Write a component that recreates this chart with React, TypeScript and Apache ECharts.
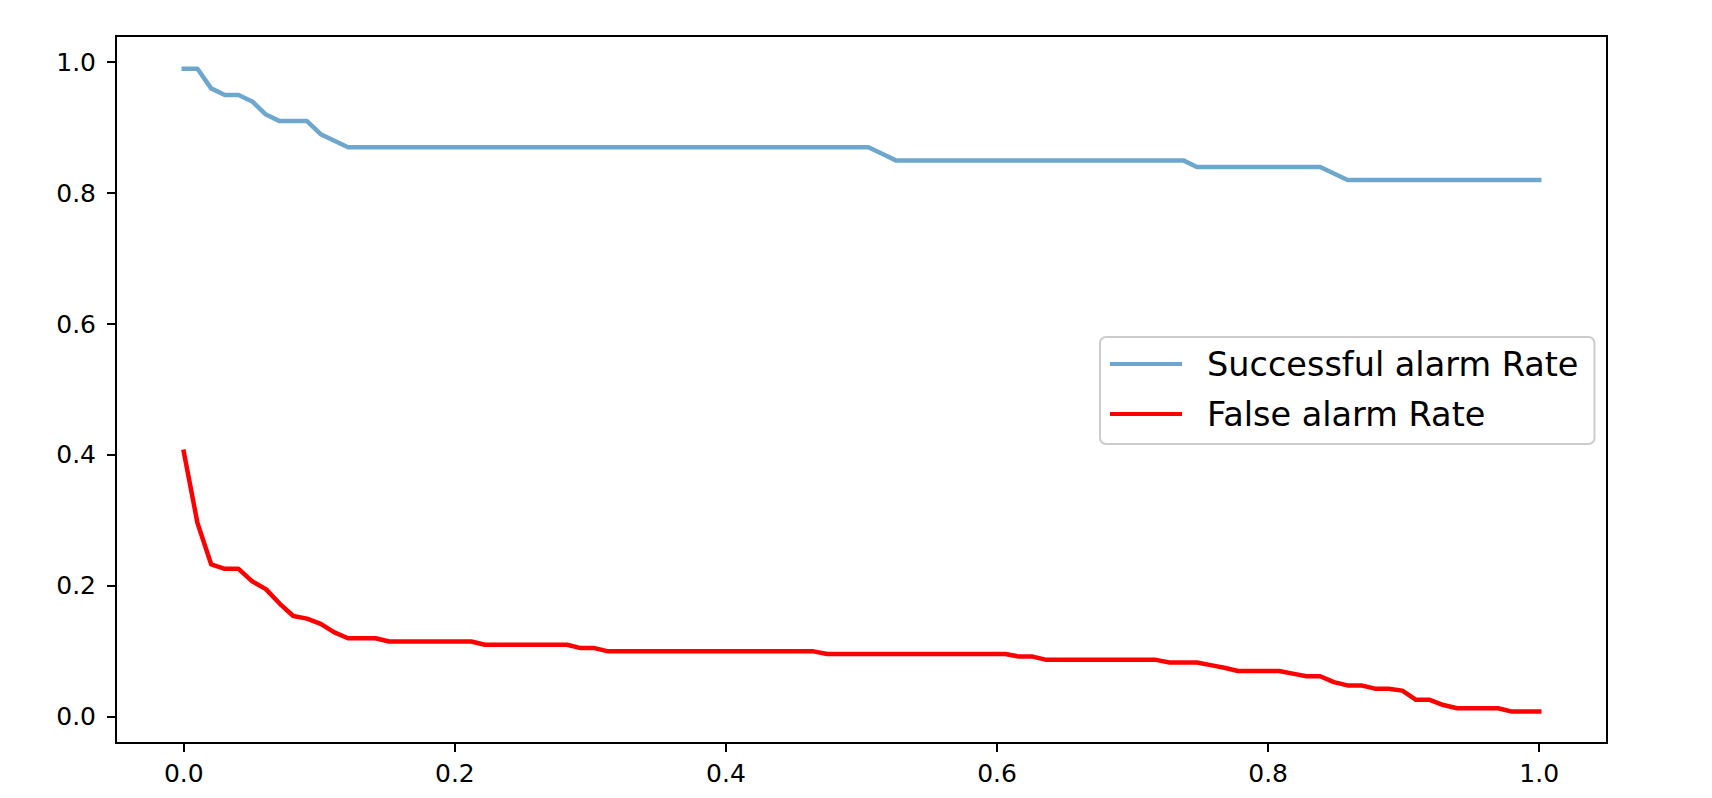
import React, { useEffect, useRef } from "react";
import * as echarts from "echarts";

const thresholds = [
  0, 0.0101, 0.0202, 0.0303, 0.0404, 0.0505, 0.0606, 0.0707, 0.0808, 0.0909,
  0.101, 0.1111, 0.1212, 0.1313, 0.1414, 0.1515, 0.1616, 0.1717, 0.1818, 0.1919,
  0.202, 0.2121, 0.2222, 0.2323, 0.2424, 0.2525, 0.2626, 0.2727, 0.2828, 0.2929,
  0.303, 0.3131, 0.3232, 0.3333, 0.3434, 0.3535, 0.3636, 0.3737, 0.3838, 0.3939,
  0.404, 0.4141, 0.4242, 0.4343, 0.4444, 0.4545, 0.4646, 0.4747, 0.4848, 0.4949,
  0.5051, 0.5152, 0.5253, 0.5354, 0.5455, 0.5556, 0.5657, 0.5758, 0.5859, 0.596,
  0.6061, 0.6162, 0.6263, 0.6364, 0.6465, 0.6566, 0.6667, 0.6768, 0.6869, 0.697,
  0.7071, 0.7172, 0.7273, 0.7374, 0.7475, 0.7576, 0.7677, 0.7778, 0.7879, 0.798,
  0.8081, 0.8182, 0.8283, 0.8384, 0.8485, 0.8586, 0.8687, 0.8788, 0.8889, 0.899,
  0.9091, 0.9192, 0.9293, 0.9394, 0.9495, 0.9596, 0.9697, 0.9798, 0.9899, 1,
];

const successfulAlarmRate = [
  0.99, 0.99, 0.96, 0.95, 0.95, 0.94, 0.92, 0.91, 0.91, 0.91,
  0.89, 0.88, 0.87, 0.87, 0.87, 0.87, 0.87, 0.87, 0.87, 0.87,
  0.87, 0.87, 0.87, 0.87, 0.87, 0.87, 0.87, 0.87, 0.87, 0.87,
  0.87, 0.87, 0.87, 0.87, 0.87, 0.87, 0.87, 0.87, 0.87, 0.87,
  0.87, 0.87, 0.87, 0.87, 0.87, 0.87, 0.87, 0.87, 0.87, 0.87,
  0.87, 0.86, 0.85, 0.85, 0.85, 0.85, 0.85, 0.85, 0.85, 0.85,
  0.85, 0.85, 0.85, 0.85, 0.85, 0.85, 0.85, 0.85, 0.85, 0.85,
  0.85, 0.85, 0.85, 0.85, 0.84, 0.84, 0.84, 0.84, 0.84, 0.84,
  0.84, 0.84, 0.84, 0.84, 0.83, 0.82, 0.82, 0.82, 0.82, 0.82,
  0.82, 0.82, 0.82, 0.82, 0.82, 0.82, 0.82, 0.82, 0.82, 0.82,
];

const falseAlarmRate = [
  0.405, 0.296, 0.233, 0.226, 0.226, 0.207, 0.195, 0.173, 0.154, 0.15,
  0.142, 0.129, 0.12, 0.12, 0.12, 0.115, 0.115, 0.115, 0.115, 0.115,
  0.115, 0.115, 0.11, 0.11, 0.11, 0.11, 0.11, 0.11, 0.11, 0.105,
  0.105, 0.1, 0.1, 0.1, 0.1, 0.1, 0.1, 0.1, 0.1, 0.1,
  0.1, 0.1, 0.1, 0.1, 0.1, 0.1, 0.1, 0.096, 0.096, 0.096,
  0.096, 0.096, 0.096, 0.096, 0.096, 0.096, 0.096, 0.096, 0.096, 0.096,
  0.096, 0.092, 0.092, 0.087, 0.087, 0.087, 0.087, 0.087, 0.087, 0.087,
  0.087, 0.087, 0.083, 0.083, 0.083, 0.079, 0.075, 0.07, 0.07, 0.07,
  0.07, 0.066, 0.062, 0.062, 0.053, 0.048, 0.048, 0.043, 0.043, 0.04,
  0.026, 0.026, 0.018, 0.013, 0.013, 0.013, 0.013, 0.008, 0.008, 0.008,
];

const tickValues = [0, 0.2, 0.4, 0.6, 0.8, 1.0];
const seriesNames = ["Successful alarm Rate", "False alarm Rate"];
const seriesColors = ["rgb(110,167,205)", "#ff0000"];

export default function App() {
  const ref = useRef<HTMLDivElement>(null);
  useEffect(() => {
    if (!ref.current) return;
    const chart = echarts.init(ref.current, null, { renderer: "svg" });
    const font = "DejaVu Sans";
    const axisCommon = {
      type: "value",
      axisLine: { show: true, onZero: false, lineStyle: { color: "#000", width: 2 } },
      axisTick: { show: true, customValues: tickValues, length: 9, lineStyle: { color: "#000", width: 2 } },
      axisLabel: {
        show: true,
        customValues: tickValues,
        formatter: (v: number) => v.toFixed(1),
        fontSize: 25,
        fontFamily: font,
        color: "#000",
      },
      splitLine: { show: false },
    };
    const mk = (arr: number[]) => thresholds.map((x, i) => [x, arr[i]]);
    chart.setOption({
      animation: false,
      backgroundColor: "#ffffff",
      grid: {
        left: 116,
        right: 105,
        top: 36,
        bottom: 55,
        show: true,
        borderColor: "#000",
        borderWidth: 2,
        backgroundColor: "transparent",
      },
      xAxis: {
        ...axisCommon,
        min: -0.05,
        max: 1.05,
        axisLabel: { ...axisCommon.axisLabel, margin: 18 },
      },
      yAxis: {
        ...axisCommon,
        min: -0.04,
        max: 1.04,
        axisLabel: { ...axisCommon.axisLabel, margin: 20 },
      },
      legend: {
        orient: "vertical",
        left: 1100,
        top: 337,
        data: seriesNames,
        icon: "rect",
        itemWidth: 72,
        itemHeight: 4,
        itemGap: 16,
        padding: [10, 16, 13, 10],
        backgroundColor: "rgba(255,255,255,0.8)",
        borderColor: "#cccccc",
        borderWidth: 2,
        borderRadius: 6,
        selectedMode: false,
        textStyle: {
          fontSize: 33.5,
          fontFamily: font,
          color: "#000",
          lineHeight: 34,
          padding: [0, 0, 0, 20],
        },
      },
      series: [
        {
          name: seriesNames[0],
          type: "line",
          data: mk(successfulAlarmRate),
          symbol: "none",
          color: seriesColors[0],
          lineStyle: { width: 4.5, color: seriesColors[0], cap: "square", join: "round" },
        },
        {
          name: seriesNames[1],
          type: "line",
          data: mk(falseAlarmRate),
          symbol: "none",
          color: seriesColors[1],
          lineStyle: { width: 4.5, color: seriesColors[1], cap: "square", join: "round" },
        },
      ],
    });
    return () => chart.dispose();
  }, []);
  return (
    <div
      ref={ref}
      style={{ position: "fixed", left: 0, top: 0, width: 1712, height: 798, background: "#fff" }}
    />
  );
}
